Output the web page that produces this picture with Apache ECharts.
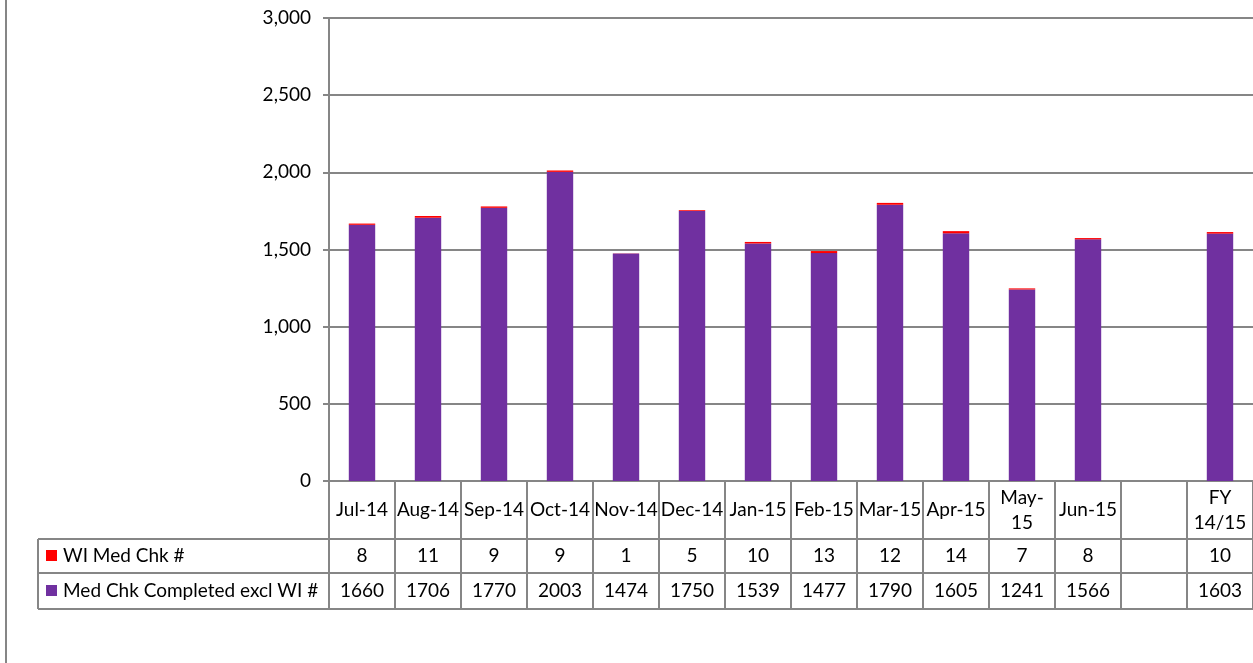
<!DOCTYPE html>
<html>
<head>
<meta charset="utf-8">
<script src="https://cdn.jsdelivr.net/npm/echarts@6/dist/echarts.min.js"></script>
<style>
html,body{margin:0;padding:0;background:#fff;}
#chart{width:1253px;height:663px;}
</style>
</head>
<body>
<div id="chart"></div>
<script>
const categories = ['Jul-14','Aug-14','Sep-14','Oct-14','Nov-14','Dec-14','Jan-15','Feb-15','Mar-15','Apr-15','May-\n15','Jun-15','','FY\n14/15'];
const wiMedChk = [8, 11, 9, 9, 1, 5, 10, 13, 12, 14, 7, 8, null, 10];
const medChkExclWI = [1660, 1706, 1770, 2003, 1474, 1750, 1539, 1477, 1790, 1605, 1241, 1566, null, 1603];
const yTicks = [0, 500, 1000, 1500, 2000, 2500, 3000];
const seriesNames = ['WI Med Chk #', 'Med Chk Completed excl WI #'];

const FONT = 'Lato, "Open Sans", sans-serif';
const FS = 19;
const GRID = '#868686';
const chart = echarts.init(document.getElementById('chart'));

function rowAxis(values, margin) {
  return {
    type: 'category', gridIndex: 0, position: 'bottom', data: categories,
    axisLine: {show: false}, axisTick: {show: false}, splitLine: {show: false},
    axisLabel: {
      interval: 0, margin: margin, verticalAlign: 'middle', color: '#000',
      fontFamily: FONT, fontSize: FS,
      formatter: (v, i) => values[i] == null ? '' : String(values[i])
    }
  };
}

const option = {
  animation: false,
  grid: {left: 329, right: 0, top: 18, bottom: 182, containLabel: false},
  xAxis: [
    {
      type: 'category', data: categories, position: 'bottom',
      axisLine: {show: true, lineStyle: {color: GRID, width: 2}},
      axisTick: {show: true, alignWithLabel: false, length: 128, interval: 0, lineStyle: {color: GRID, width: 2}},
      axisLabel: {interval: 0, margin: 29, verticalAlign: 'middle', color: '#000', fontFamily: FONT, fontSize: FS, lineHeight: 25}
    },
    rowAxis(wiMedChk, 75),
    rowAxis(medChkExclWI, 110)
  ],
  yAxis: {
    type: 'value', min: yTicks[0], max: yTicks[yTicks.length - 1], interval: 500,
    axisLine: {show: true, lineStyle: {color: GRID, width: 2}},
    axisTick: {show: true, length: 6, lineStyle: {color: GRID, width: 2}},
    splitLine: {show: true, lineStyle: {color: GRID, width: 2}},
    axisLabel: {margin: 18, color: '#000', fontFamily: FONT, fontSize: FS,
      formatter: v => v.toLocaleString('en-US')}
  },
  series: [
    {name: seriesNames[1], type: 'bar', stack: 'a', xAxisIndex: 0, barWidth: '40%',
     itemStyle: {color: '#7030A0'}, data: medChkExclWI},
    {name: seriesNames[0], type: 'bar', stack: 'a', xAxisIndex: 0, barWidth: '40%',
     itemStyle: {color: '#FF0000'}, data: wiMedChk}
  ],
  graphic: [
    {type: 'line', shape: {x1: 6, y1: 0, x2: 6, y2: 663}, style: {stroke: GRID, lineWidth: 2}},
    {type: 'line', shape: {x1: 38, y1: 539, x2: 1253, y2: 539}, style: {stroke: GRID, lineWidth: 2}},
    {type: 'line', shape: {x1: 38, y1: 573, x2: 1253, y2: 573}, style: {stroke: GRID, lineWidth: 2}},
    {type: 'line', shape: {x1: 38, y1: 609, x2: 1253, y2: 609}, style: {stroke: GRID, lineWidth: 2}},
    {type: 'line', shape: {x1: 38, y1: 539, x2: 38, y2: 609}, style: {stroke: GRID, lineWidth: 2}},
    {type: 'rect', shape: {x: 46, y: 550, width: 11, height: 11}, style: {fill: '#FF0000'}},
    {type: 'text', x: 63, y: 556, style: {text: seriesNames[0], font: FS + 'px ' + FONT, fill: '#000', verticalAlign: 'middle'}},
    {type: 'rect', shape: {x: 46, y: 585, width: 11, height: 11}, style: {fill: '#7030A0'}},
    {type: 'text', x: 63, y: 591, style: {text: seriesNames[1], font: FS + 'px ' + FONT, fill: '#000', verticalAlign: 'middle'}}
  ]
};
chart.setOption(option);
</script>
</body>
</html>
